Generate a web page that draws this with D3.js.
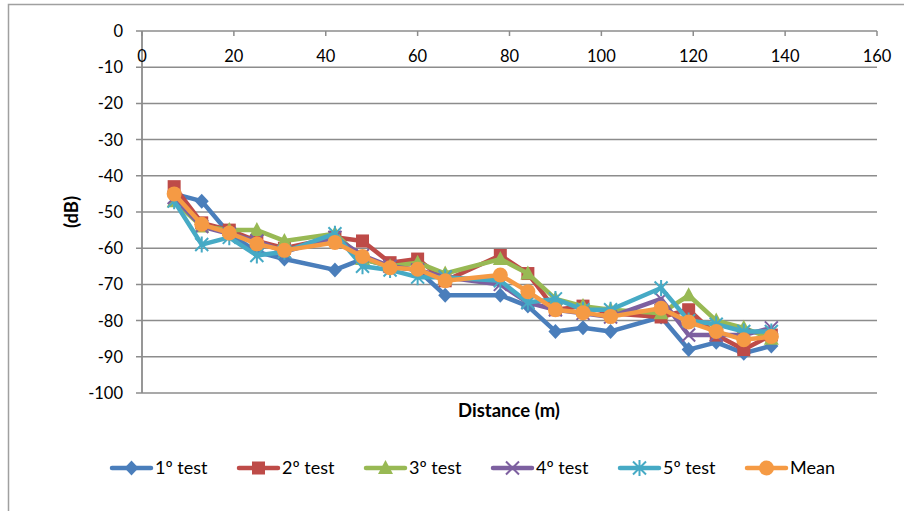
<!DOCTYPE html>
<html><head><meta charset="utf-8">
<script src="https://cdn.jsdelivr.net/npm/d3@7"></script>
<style>body{margin:0;background:#fff}svg{display:block;font-family:Lato,"Noto Sans",sans-serif}</style>
</head><body>
<svg id="c" width="904" height="511"></svg>
<script>
const distances = [7,13,19,25,31,42,48,54,60,66,78,84,90,96,102,113,119,125,131,137];
const test1 = [-45,-47,-56,-61,-63,-66,-63,-65,-66,-73,-73,-76,-83,-82,-83,-79,-88,-86,-89,-87];
const test2 = [-43,-53,-55,-58,-60,-57,-58,-64,-63,-69,-62,-67,-77,-76,-78,-79,-77,-84,-88,-84];
const test3 = [-47,-54,-55,-55,-58,-56,-63,-65,-64,-67,-63,-67,-74,-76,-77,-78,-73,-80,-82,-85];
const test4 = [-46,-54,-56,-58,-61,-57,-62,-65,-66,-68,-70,-75,-77,-78,-79,-74,-84,-84,-84,-82];
const test5 = [-47,-59,-57,-62,-61,-56,-65,-66,-68,-68,-69,-75,-74,-77,-77,-71,-80,-81,-83,-83];
const meanV = [-45,-53.4,-55.8,-58.8,-60.6,-58.4,-62.3,-65.4,-65.8,-69,-67.4,-72,-77,-77.8,-78.9,-76.6,-80.4,-83,-85.3,-84.4];
const seriesNames = ["1º test","2º test","3º test","4º test","5º test","Mean"];
const seriesColors = ["#4A7EBB","#BE4B48","#98B954","#7D60A0","#46AAC5","#F59A44"];
const seriesMarkers = ["diamond","square","triangle","x","star","circle"];
const xTicks = [0,20,40,60,80,100,120,140,160];
const yTicks = [0,-10,-20,-30,-40,-50,-60,-70,-80,-90,-100];

const svg = d3.select("#c");
// outer chart border
svg.append("rect").attr("x",8.5).attr("y",4.5).attr("width",1000).attr("height",600)
  .attr("fill","none").attr("stroke","#a0a0a0").attr("stroke-width",1.5);

const x = d3.scaleLinear().domain([0,160]).range([142,877]);
const y = d3.scaleLinear().domain([-100,0]).range([393,31]);
const grey = "#8c8c8c";

// gridlines
svg.append("g").selectAll("line").data(yTicks).join("line")
  .attr("x1",136).attr("x2",877).attr("y1",d=>y(d)).attr("y2",d=>y(d))
  .attr("stroke",grey).attr("stroke-width",1.5);
// y axis line
svg.append("line").attr("x1",142).attr("x2",142).attr("y1",31).attr("y2",393)
  .attr("stroke",grey).attr("stroke-width",1.8);
// x axis ticks (at y=0, pointing down)
svg.append("g").selectAll("line").data(xTicks).join("line")
  .attr("x1",d=>x(d)).attr("x2",d=>x(d)).attr("y1",31).attr("y2",36)
  .attr("stroke",grey).attr("stroke-width",1.5);
// y tick labels
svg.append("g").selectAll("text").data(yTicks).join("text")
  .attr("x",123).attr("y",d=>y(d)).attr("dy","0.36em").attr("text-anchor","end")
  .attr("font-size",16.5).attr("fill","#000").text(d=>d);
// x tick labels
svg.append("g").selectAll("text").data(xTicks).join("text")
  .attr("x",d=>x(d)).attr("y",56).attr("dy","0.36em").attr("text-anchor","middle")
  .attr("font-size",16.5).attr("fill","#000").text(d=>d);
// axis titles
svg.append("text").attr("x",509).attr("y",410).attr("dy","0.36em").attr("text-anchor","middle")
  .attr("font-size",18.5).attr("font-weight","bold").text("Distance (m)");
svg.append("text").attr("transform","translate(71,212) rotate(-90)").attr("dy","0.36em")
  .attr("text-anchor","middle").attr("font-size",18.5).attr("font-weight","bold").text("(dB)");

function drawMarker(g, type, color, cx, cy){
  if(type==="diamond"){
    g.append("path").attr("d",`M${cx},${cy-7.5}L${cx+7},${cy}L${cx},${cy+7.5}L${cx-7},${cy}Z`).attr("fill",color);
  } else if(type==="square"){
    g.append("rect").attr("x",cx-6.5).attr("y",cy-6.5).attr("width",13).attr("height",13).attr("fill",color);
  } else if(type==="triangle"){
    g.append("path").attr("d",`M${cx},${cy-8}L${cx+7.5},${cy+6}L${cx-7.5},${cy+6}Z`).attr("fill",color);
  } else if(type==="x"){
    g.append("path").attr("d",`M${cx-6.5},${cy-6.5}L${cx+6.5},${cy+6.5}M${cx-6.5},${cy+6.5}L${cx+6.5},${cy-6.5}`)
      .attr("stroke",color).attr("stroke-width",2);
  } else if(type==="star"){
    g.append("path").attr("d",`M${cx-6.5},${cy-6.5}L${cx+6.5},${cy+6.5}M${cx-6.5},${cy+6.5}L${cx+6.5},${cy-6.5}M${cx},${cy-8}L${cx},${cy+8}`)
      .attr("stroke",color).attr("stroke-width",2);
  } else {
    g.append("circle").attr("cx",cx).attr("cy",cy).attr("r",7.5).attr("fill",color);
  }
}

const allSeries = [test1,test2,test3,test4,test5,meanV];
const line = d3.line().x((d,i)=>x(distances[i])).y(d=>y(d));
allSeries.forEach((vals,si)=>{
  const g = svg.append("g");
  g.append("path").datum(vals).attr("d",line).attr("fill","none")
    .attr("stroke",seriesColors[si]).attr("stroke-width",4.5).attr("stroke-linejoin","round").attr("stroke-linecap","round");
  vals.forEach((v,i)=>drawMarker(g, seriesMarkers[si], seriesColors[si], x(distances[i]), y(v)));
});

// legend
const leg = svg.append("g");
seriesNames.forEach((name,i)=>{
  const lx = 112 + i*127, ly = 468;
  leg.append("line").attr("x1",lx).attr("x2",lx+39).attr("y1",ly).attr("y2",ly)
    .attr("stroke",seriesColors[i]).attr("stroke-width",4.5).attr("stroke-linecap","round");
  drawMarker(leg, seriesMarkers[i], seriesColors[i], lx+19.5, ly);
  leg.append("text").attr("x",lx+43).attr("y",ly).attr("dy","0.36em")
    .attr("font-size",18).text(name);
});
</script>
</body></html>
